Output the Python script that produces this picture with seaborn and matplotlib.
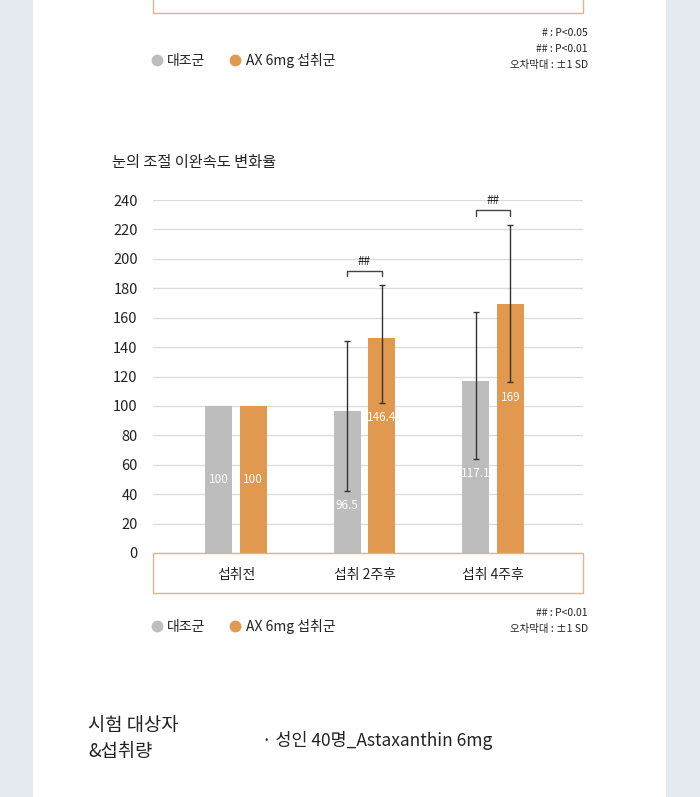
import numpy as np
import pandas as pd
import seaborn as sns
import matplotlib.pyplot as plt
from matplotlib.patches import Rectangle
from matplotlib.lines import Line2D

# --- datos ---
categories = ['섭취전', '섭취 2주후', '섭취 4주후']
groups = ['대조군', 'AX 6mg 섭취군']
control_vals = [100, 96.5, 117.1]
ax6mg_vals = [100, 146.4, 169]
# extremos de las barras de error (inferior / superior)
control_err_lo = [np.nan, 42, 64]
control_err_hi = [np.nan, 144, 164]
ax6mg_err_lo = [np.nan, 102, 116]
ax6mg_err_hi = [np.nan, 182, 223]
significance = ['', '##', '##']
y_ticks = list(range(0, 241, 20))

title = '눈의 조절 이완속도 변화율'
notes_top = ['# : P<0.05', '## : P<0.01', '오차막대 : ±1 SD']
notes_bottom = ['## : P<0.01', '오차막대 : ±1 SD']
subject_label = ['시험 대상자', '&섭취량']
subject_text = '· 성인 40명_Astaxanthin 6mg'

gray = '#BDBDBD'
orange = '#E1984F'
box_color = '#D9B68C'
text_color = '#222222'
outer_bg = '#E5E9F0'

sns.set_theme(style="white")
plt.rcParams['font.family'] = ['Noto Sans CJK KR', 'DejaVu Sans']

W, H = 700, 797
fig = plt.figure(figsize=(W / 100, H / 100), dpi=100)
fig.patch.set_facecolor(outer_bg)

def fx(px):
    return px / W

def fy(py):
    return 1 - py / H

# panel blanco central
fig.add_artist(Rectangle((fx(33), 0), fx(666) - fx(33), 1, transform=fig.transFigure,
                         facecolor='white', edgecolor='none', zorder=-5))
# caja recortada del gráfico anterior
fig.add_artist(Rectangle((fx(153), fy(13)), fx(583) - fx(153), 0.1, transform=fig.transFigure,
                         facecolor='none', edgecolor=box_color, lw=1))

df = pd.DataFrame({
    'time': categories * 2,
    'value': control_vals + ax6mg_vals,
    'group': [groups[0]] * 3 + [groups[1]] * 3,
})

ax = fig.add_axes([fx(153), fy(553), fx(583) - fx(153), (553 - 200) / H])
ax.set_facecolor('none')
sns.barplot(data=df, x='time', y='value', hue='group', palette=[gray, orange],
            width=0.537, gap=0.22, errorbar=None, legend=False, ax=ax,
            saturation=1, linewidth=0, zorder=2)
ax.set_xlim(-0.646, 2.70)
ax.set_ylim(0, 240)
ax.set_yticks(y_ticks)
ax.yaxis.grid(True, color='#dcdcdc', lw=1)
ax.set_axisbelow(True)
for s in ax.spines.values():
    s.set_visible(False)
ax.set_xlabel('')
ax.set_ylabel('')
ax.tick_params(axis='y', length=0, pad=11, labelsize=10.5, labelcolor=text_color)
ax.tick_params(axis='x', length=0, pad=11, labelsize=10, labelcolor=text_color)

# caja del eje x
fig.add_artist(Rectangle((fx(153), fy(593)), fx(583) - fx(153), (593 - 553) / H,
                         transform=fig.transFigure, facecolor='none',
                         edgecolor=box_color, lw=1, zorder=3))

# barras ordenadas por x: gris, naranja, gris, naranja...
bars = sorted(ax.patches, key=lambda p: p.get_x())
vals = [control_vals, ax6mg_vals]
lo = [control_err_lo, ax6mg_err_lo]
hi = [control_err_hi, ax6mg_err_hi]
for j in range(len(categories)):
    centers = []
    for g in range(2):
        p = bars[2 * j + g]
        cx = p.get_x() + p.get_width() / 2
        centers.append(cx)
        v = vals[g][j]
        if not np.isnan(lo[g][j]):
            ax.errorbar(cx, v, yerr=[[v - lo[g][j]], [hi[g][j] - v]], fmt='none',
                        ecolor='#333333', elinewidth=1, capsize=2.5, capthick=1,
                        zorder=4)
            ly = lo[g][j] - 10
        else:
            ly = v / 2
        ax.text(cx, ly, f'{v:g}', color='white', ha='center', va='center',
                fontsize=8.5, zorder=5)
    if significance[j]:
        top = np.nanmax([hi[0][j], hi[1][j]]) + 10
        ax.plot([centers[0], centers[0], centers[1], centers[1]],
                [top - 4, top, top, top - 4], color='#444444', lw=1,
                clip_on=False, zorder=4)
        ax.text((centers[0] + centers[1]) / 2, top + 2, significance[j],
                ha='center', va='bottom', fontsize=8.5, color=text_color)

# título
fig.text(fx(112), fy(162), title, fontsize=11, color=text_color, va='center',
         fontweight='medium')

# leyendas
handles = [Line2D([], [], marker='o', ls='none', markersize=8.5, color=c, markeredgewidth=0)
           for c in [gray, orange]]
for ly in [60, 626]:
    fig.legend(handles, groups, loc='center left', bbox_to_anchor=(fx(151), fy(ly)),
               ncol=2, frameon=False, fontsize=10, handlelength=0.8,
               handletextpad=0.35, columnspacing=1.75, borderpad=0, borderaxespad=0,
               labelcolor=text_color)

for i, t in enumerate(notes_top):
    fig.text(fx(588), fy(33 + i * 16), t, ha='right', va='center', fontsize=7.5,
             color=text_color)
for i, t in enumerate(notes_bottom):
    fig.text(fx(588), fy(613 + i * 16), t, ha='right', va='center', fontsize=7.5,
             color=text_color)

# texto inferior
fig.text(fx(88), fy(725), subject_label[0], fontsize=13.5, color=text_color, va='center',
         fontweight='light')
fig.text(fx(88), fy(752), subject_label[1], fontsize=13.5, color=text_color, va='center',
         fontweight='light')
fig.text(fx(262), fy(740), subject_text, fontsize=12.5, color=text_color, va='center',
         fontweight='light')

fig.savefig('out.png', dpi=100)
